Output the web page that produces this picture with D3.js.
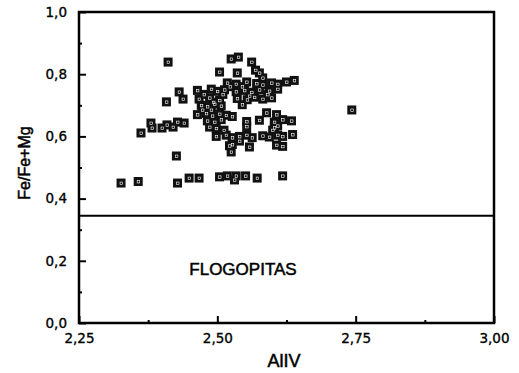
<!DOCTYPE html>
<html>
<head>
<meta charset="utf-8">
<script src="https://cdn.jsdelivr.net/npm/d3@7"></script>
<style>
  body { margin: 0; background: #fff; }
  svg { display: block; }
  .axis path, .axis line { stroke: #000; }
  .axis text { font-family: "DejaVu Sans", sans-serif; font-size: 13.5px; fill: #000; stroke: #000; stroke-width: 0.35px; }
  .title { fill: #000; stroke: #000; stroke-width: 0.5px; }
</style>
</head>
<body>
<div id="chart"></div>
<script>
// AlIV values (x) and Fe/(Fe+Mg) values (y)
var alIV = [
  2.411, 2.525, 2.538, 2.562, 2.569, 2.504, 2.536, 2.576, 2.582,
  2.431, 2.438, 2.408, 2.743, 2.362, 2.426,
  2.380, 2.382, 2.400, 2.409, 2.420, 2.428, 2.440,
  2.326, 2.357, 2.428, 2.449, 2.467, 2.504, 2.518, 2.534, 2.551, 2.572, 2.618, 2.531,
  2.518, 2.534, 2.553, 2.571, 2.582, 2.598, 2.609, 2.625, 2.639,
  2.464, 2.489, 2.500, 2.513, 2.534, 2.549, 2.562, 2.576, 2.594, 2.609,
  2.467, 2.486, 2.504, 2.536, 2.554, 2.567, 2.582, 2.598,
  2.471, 2.482, 2.495, 2.507, 2.545,
  2.464, 2.480, 2.491, 2.504, 2.516, 2.527, 2.589, 2.607,
  2.482, 2.495, 2.507, 2.553, 2.576, 2.603, 2.618, 2.634,
  2.486, 2.498, 2.553, 2.603, 2.609,
  2.498, 2.516, 2.527, 2.540, 2.553, 2.563, 2.582, 2.594, 2.609, 2.618, 2.636,
  2.522, 2.527, 2.558, 2.607, 2.618,
  2.525,
  2.476, 2.493, 2.510, 2.523, 2.545, 2.558, 2.591, 2.473, 2.489, 2.540, 2.512, 2.600
];
var feRatio = [
  0.839, 0.849, 0.855, 0.839, 0.813, 0.807, 0.804, 0.804, 0.788,
  0.743, 0.720, 0.711, 0.685, 0.611, 0.537,
  0.643, 0.627, 0.627, 0.637, 0.630, 0.646, 0.643,
  0.450, 0.455, 0.450, 0.466, 0.466, 0.470, 0.473, 0.473, 0.473, 0.466, 0.473, 0.460,
  0.772, 0.768, 0.775, 0.770, 0.766, 0.772, 0.768, 0.775, 0.780,
  0.748, 0.752, 0.745, 0.750, 0.744, 0.748, 0.742, 0.750, 0.746, 0.752,
  0.720, 0.724, 0.716, 0.722, 0.718, 0.726, 0.720, 0.724,
  0.700, 0.696, 0.704, 0.698, 0.702,
  0.670, 0.674, 0.666, 0.672, 0.668, 0.664, 0.676, 0.670,
  0.650, 0.646, 0.654, 0.648, 0.652, 0.646, 0.654, 0.650,
  0.630, 0.626, 0.632, 0.628, 0.634,
  0.600, 0.604, 0.596, 0.600, 0.604, 0.596, 0.602, 0.598, 0.604, 0.600, 0.606,
  0.570, 0.574, 0.566, 0.572, 0.568,
  0.550,
  0.735, 0.710, 0.735, 0.760, 0.760, 0.730, 0.735, 0.685, 0.685, 0.585, 0.620, 0.620
];
var xTicks = [2.25, 2.50, 2.75, 3.00];
var xMinor = [2.375, 2.625, 2.875];
var yTicks = [0, 0.2, 0.4, 0.6, 0.8, 1.0];
var yMinor = [0.1, 0.3, 0.5, 0.7, 0.9];
var boundary = 0.345;

var width = 519, height = 373;
var mLeft = 79, mRight = 494, mTop = 12, mBottom = 323;

var x = d3.scaleLinear().domain([2.25, 3.00]).range([mLeft, mRight]);
var y = d3.scaleLinear().domain([0, 1]).range([mBottom, mTop]);

var svg = d3.select("#chart").append("svg")
  .attr("width", width)
  .attr("height", height);

var comma = function(f) { return function(d) { return d3.format(f)(d).replace(".", ","); }; };

// frame
svg.append("rect")
  .attr("x", mLeft).attr("y", mTop)
  .attr("width", mRight - mLeft).attr("height", mBottom - mTop)
  .style("fill", "none").style("stroke", "#000").style("stroke-width", 2.5);

// y axis, ticks pointing inward
svg.append("g").attr("class", "axis")
  .attr("transform", "translate(" + mLeft + ",0)")
  .call(d3.axisLeft(y).tickValues(yTicks).tickSize(-7).tickPadding(12).tickFormat(comma(".1f")))
  .call(g => g.select(".domain").remove())
  .call(g => g.selectAll("line").style("stroke-width", 2));

svg.append("g").attr("class", "axis")
  .attr("transform", "translate(" + mLeft + ",0)")
  .call(d3.axisLeft(y).tickValues(yMinor).tickSize(-3).tickFormat(""))
  .call(g => g.select(".domain").remove())
  .call(g => g.selectAll("line").style("stroke-width", 2));

// x axis
svg.append("g").attr("class", "axis")
  .attr("transform", "translate(0," + mBottom + ")")
  .call(d3.axisBottom(x).tickValues(xTicks).tickSize(-7).tickPadding(10).tickFormat(comma(".2f")))
  .call(g => g.select(".domain").remove())
  .call(g => g.selectAll("line").style("stroke-width", 2));

svg.append("g").attr("class", "axis")
  .attr("transform", "translate(0," + mBottom + ")")
  .call(d3.axisBottom(x).tickValues(xMinor).tickSize(-3).tickFormat(""))
  .call(g => g.select(".domain").remove())
  .call(g => g.selectAll("line").style("stroke-width", 2));

// field boundary
svg.append("line")
  .attr("x1", mLeft).attr("x2", mRight)
  .attr("y1", y(boundary)).attr("y2", y(boundary))
  .style("stroke", "#000").style("stroke-width", 2);

svg.append("text")
  .attr("class", "title")
  .attr("x", 243).attr("y", 275)
  .attr("text-anchor", "middle")
  .style("font-family", "Liberation Sans, sans-serif")
  .style("font-size", "17px")
  .text("FLOGOPITAS");

// axis titles
svg.append("text")
  .attr("class", "title")
  .attr("transform", "translate(30,163) rotate(-90)")
  .attr("text-anchor", "middle")
  .style("font-family", "Liberation Sans, sans-serif")
  .style("font-size", "16px")
  .text("Fe/Fe+Mg");

svg.append("text")
  .attr("class", "title")
  .attr("x", 284).attr("y", 367)
  .attr("text-anchor", "middle")
  .style("font-family", "Liberation Sans, sans-serif")
  .style("font-size", "18px")
  .text("AlIV");

// points
var pts = alIV.map((d, i) => ({ x: d, y: feRatio[i] }));
var s = 9;
var gp = svg.append("g").attr("class", "points");
gp.selectAll("rect.pt")
  .data(pts)
  .enter().append("rect")
  .attr("class", "pt")
  .attr("x", d => x(d.x) - s / 2)
  .attr("y", d => y(d.y) - s / 2)
  .attr("width", s).attr("height", s)
  .style("fill", "#111");
gp.selectAll("rect.in")
  .data(pts)
  .enter().append("rect")
  .attr("class", "in")
  .attr("x", d => x(d.x) - 1)
  .attr("y", d => y(d.y) - 1)
  .attr("width", 2.5).attr("height", 2.5)
  .style("fill", "none")
  .style("stroke", "#fff")
  .style("stroke-width", 0.6);
</script>
</body>
</html>
